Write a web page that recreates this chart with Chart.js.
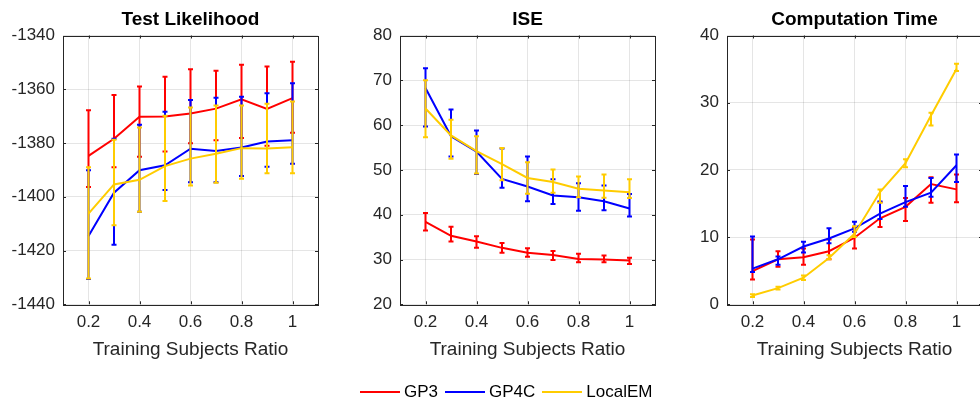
<!DOCTYPE html>
<html>
<head>
<meta charset="utf-8">
<script src="https://cdn.jsdelivr.net/npm/chart.js@4.4.1/dist/chart.umd.min.js"></script>
<style>
  html, body { margin: 0; padding: 0; background: #fff; }
  body { width: 980px; height: 400px; overflow: hidden; position: relative; font-family: "Liberation Sans", Arial, sans-serif; }
  .plot { position: absolute; top: 0; }
  #legend { position: absolute; top: 381px; left: 360px; height: 22px; display: flex; align-items: center; font-size: 17px; color: #000; }
  .key { display: flex; align-items: center; margin-right: 7px; }
  .swatch { width: 40px; height: 2px; margin-right: 4px; }
</style>
</head>
<body>
<canvas id="c1" class="plot" width="335" height="400" style="left:-6.7px"></canvas>
<canvas id="c2" class="plot" width="335" height="400" style="left:330.2px"></canvas>
<canvas id="c3" class="plot" width="335" height="400" style="left:656.7px"></canvas>
<div id="legend">
  <div class="key"><div class="swatch" style="background:#ff0000"></div>GP3</div>
  <div class="key"><div class="swatch" style="background:#0000ff"></div>GP4C</div>
  <div class="key"><div class="swatch" style="background:#ffcc00"></div>LocalEM</div>
</div>
<script>
// x values (training subjects ratio) and tick labels
const xValues = [0.2, 0.3, 0.4, 0.5, 0.6, 0.7, 0.8, 0.9, 1.0];
const xTickValues = [0.2, 0.4, 0.6, 0.8, 1.0];
const xTickLabels = ["0.2", "0.4", "0.6", "0.8", "1"];

// Test Likelihood
const likTicks = [-1440, -1420, -1400, -1380, -1360, -1340];
const gp3LikMean = [-1384.8, -1378.4, -1370.2, -1370.1, -1369.0, -1367.2, -1363.7, -1367.3, -1363.3];
const gp3LikLow = [-1396.4, -1389.0, -1385.1, -1383.2, -1380.1, -1379.0, -1378.1, -1381.0, -1376.2];
const gp3LikHigh = [-1367.8, -1362.1, -1359.0, -1355.3, -1352.6, -1353.1, -1350.9, -1351.5, -1349.8];
const gp4cLikMean = [-1414.6, -1398.5, -1390.1, -1388.3, -1382.1, -1383.0, -1381.7, -1379.4, -1379.0];
const gp4cLikLow = [-1430.6, -1417.8, -1405.6, -1397.5, -1394.6, -1394.6, -1392.3, -1388.8, -1387.7];
const gp4cLikHigh = [-1390.1, -1378.4, -1373.2, -1368.4, -1364.0, -1363.2, -1362.8, -1361.5, -1357.8];
const emLikMean = [-1406.3, -1395.4, -1393.7, -1388.6, -1385.8, -1384.0, -1381.9, -1382.0, -1381.6];
const emLikLow = [-1430.4, -1410.6, -1405.6, -1401.6, -1395.8, -1394.8, -1393.3, -1391.2, -1391.2];
const emLikHigh = [-1389.0, -1378.8, -1374.2, -1369.9, -1366.8, -1366.0, -1366.0, -1365.4, -1364.6];

// ISE
const iseTicks = [20, 30, 40, 50, 60, 70, 80];
const gp3IseMean = [38.4, 35.3, 34.0, 32.6, 31.5, 31.0, 30.1, 30.0, 29.8];
const gp3IseLow = [36.5, 34.0, 32.6, 31.5, 30.6, 29.9, 29.4, 29.4, 29.0];
const gp3IseHigh = [40.4, 37.3, 35.2, 33.7, 32.5, 31.9, 31.3, 30.9, 30.4];
const gp4cIseMean = [68.3, 57.5, 54.1, 48.0, 46.3, 44.3, 43.9, 43.0, 41.4];
const gp4cIseLow = [59.7, 53.0, 49.1, 46.0, 43.0, 42.4, 40.9, 41.0, 39.6];
const gp4cIseHigh = [72.7, 63.5, 58.8, 54.8, 53.0, 47.9, 47.0, 46.5, 44.6];
const emIseMean = [63.7, 57.7, 54.2, 51.3, 48.2, 47.3, 45.8, 45.4, 45.0];
const emIseLow = [57.3, 52.5, 49.2, 47.7, 44.7, 44.9, 43.9, 43.8, 43.7];
const emIseHigh = [70.0, 61.2, 57.5, 54.9, 51.7, 50.1, 48.5, 49.0, 47.9];

// Computation Time
const timeTicks = [0, 10, 20, 30, 40];
const gp3TimeMean = [4.95, 6.7, 7.0, 7.9, 9.9, 12.8, 14.5, 17.9, 17.1];
const gp3TimeLow = [3.7, 5.6, 5.9, 6.7, 8.3, 11.5, 12.4, 15.1, 15.2];
const gp3TimeHigh = [9.65, 7.9, 8.3, 9.65, 11.5, 15.2, 15.8, 18.9, 19.3];
const gp4cTimeMean = [5.3, 6.7, 8.6, 9.8, 11.3, 13.5, 15.2, 16.6, 20.7];
const gp4cTimeLow = [4.8, 5.9, 7.7, 9.1, 10.8, 12.7, 14.5, 16.0, 18.2];
const gp4cTimeHigh = [10.1, 7.1, 9.3, 11.3, 12.3, 15.3, 17.6, 18.8, 22.3];
const emTimeMean = [1.3, 2.4, 3.96, 6.9, 10.5, 16.7, 21.0, 28.1, 35.0];
const emTimeLow = [1.1, 2.2, 3.6, 6.7, 10.0, 15.1, 20.4, 26.6, 34.7];
const emTimeHigh = [1.5, 2.6, 4.3, 7.3, 11.6, 17.1, 21.6, 28.5, 35.8];

const seriesNames = ["GP3", "GP4C", "LocalEM"];
const seriesColors = ["#ff0000", "#0000ff", "#ffcc00"];

const FONT = "'Liberation Sans', Arial, sans-serif";
const TEXT = "#262626";

// draws the vertical error bars with caps, right after each line
const errorBars = {
    id: "errorBars",
    afterDatasetDraw(chart, args) {
        const ds = chart.data.datasets[args.index];
        if (!ds.low) return;
        const ctx = chart.ctx;
        const y = chart.scales.y;
        ctx.save();
        ctx.strokeStyle = ds.borderColor;
        ctx.lineWidth = 2;
        args.meta.data.forEach((pt, i) => {
            const yl = y.getPixelForValue(ds.low[i]);
            const yh = y.getPixelForValue(ds.high[i]);
            ctx.beginPath();
            ctx.moveTo(pt.x, yl); ctx.lineTo(pt.x, yh);
            ctx.moveTo(pt.x - 2.5, yl); ctx.lineTo(pt.x + 2.5, yl);
            ctx.moveTo(pt.x - 2.5, yh); ctx.lineTo(pt.x + 2.5, yh);
            ctx.stroke();
        });
        ctx.restore();
    }
};

// box around the axes with small inward tick marks
const frame = {
    id: "frame",
    afterDraw(chart) {
        const a = chart.chartArea;
        const ctx = chart.ctx;
        ctx.save();
        ctx.strokeStyle = TEXT;
        ctx.lineWidth = 1;
        ctx.strokeRect(Math.round(a.left) + 0.5, Math.round(a.top) + 0.5,
            Math.round(a.right - a.left), Math.round(a.bottom - a.top));
        ctx.beginPath();
        chart.scales.x.ticks.forEach(t => {
            const px = Math.round(chart.scales.x.getPixelForValue(t.value)) + 0.5;
            ctx.moveTo(px, a.bottom); ctx.lineTo(px, a.bottom - 3);
            ctx.moveTo(px, a.top); ctx.lineTo(px, a.top + 3);
        });
        chart.scales.y.ticks.forEach(t => {
            const py = Math.round(chart.scales.y.getPixelForValue(t.value)) + 0.5;
            ctx.moveTo(a.left, py); ctx.lineTo(a.left + 3, py);
            ctx.moveTo(a.right, py); ctx.lineTo(a.right - 3, py);
        });
        ctx.stroke();
        ctx.restore();
    }
};

function makeChart(id, title, yTicks, series) {
    const datasets = series.map((s, k) => ({
        label: seriesNames[k],
        data: xValues.map((x, i) => ({ x: x, y: s[0][i] })),
        low: s[1],
        high: s[2],
        borderColor: seriesColors[k],
        borderWidth: 2,
        pointRadius: 0,
        tension: 0,
        fill: false,
        // later series sit on top, as in the original figure
        order: series.length - 1 - k
    }));
    return new Chart(document.getElementById(id), {
        type: "line",
        data: { datasets: datasets },
        plugins: [errorBars, frame],
        options: {
            responsive: false,
            animation: false,
            devicePixelRatio: 1,
            layout: { padding: { top: 8.7, left: 0, right: 10, bottom: 25.7 } },
            plugins: {
                legend: { display: false },
                tooltip: { enabled: false },
                title: {
                    display: true,
                    text: title,
                    fullSize: false,
                    color: "#000",
                    font: { family: FONT, size: 19, weight: "bold", lineHeight: 1.2 },
                    padding: { top: 0, bottom: 4 }
                }
            },
            scales: {
                x: {
                    type: "linear",
                    min: 0.1,
                    max: 1.1,
                    afterFit: s => { s.height = 70; },
                    afterBuildTicks: s => { s.ticks = xTickValues.map(v => ({ value: v })); },
                    ticks: {
                        callback: (v) => xTickLabels[xTickValues.indexOf(v)],
                        color: TEXT,
                        font: { family: FONT, size: 17 },
                        padding: 8,
                        maxRotation: 0
                    },
                    grid: { color: "rgba(38,38,38,0.12)", drawTicks: false },
                    border: { display: false },
                    title: {
                        display: true,
                        text: "Training Subjects Ratio",
                        color: TEXT,
                        font: { family: FONT, size: 19, lineHeight: 1.2 },
                        padding: { top: 0, bottom: 13 }
                    }
                },
                y: {
                    min: yTicks[0],
                    max: yTicks[yTicks.length - 1],
                    afterFit: s => { s.width = 70; },
                    afterBuildTicks: s => { s.ticks = yTicks.map(v => ({ value: v })); },
                    ticks: {
                        callback: (v) => String(v),
                        color: TEXT,
                        font: { family: FONT, size: 17 },
                        padding: 8
                    },
                    grid: { color: "rgba(38,38,38,0.12)", drawTicks: false },
                    border: { display: false }
                }
            }
        }
    });
}

makeChart("c1", "Test Likelihood", likTicks, [
    [gp3LikMean, gp3LikLow, gp3LikHigh],
    [gp4cLikMean, gp4cLikLow, gp4cLikHigh],
    [emLikMean, emLikLow, emLikHigh]
]);
makeChart("c2", "ISE", iseTicks, [
    [gp3IseMean, gp3IseLow, gp3IseHigh],
    [gp4cIseMean, gp4cIseLow, gp4cIseHigh],
    [emIseMean, emIseLow, emIseHigh]
]);
makeChart("c3", "Computation Time", timeTicks, [
    [gp3TimeMean, gp3TimeLow, gp3TimeHigh],
    [gp4cTimeMean, gp4cTimeLow, gp4cTimeHigh],
    [emTimeMean, emTimeLow, emTimeHigh]
]);
</script>
</body>
</html>
